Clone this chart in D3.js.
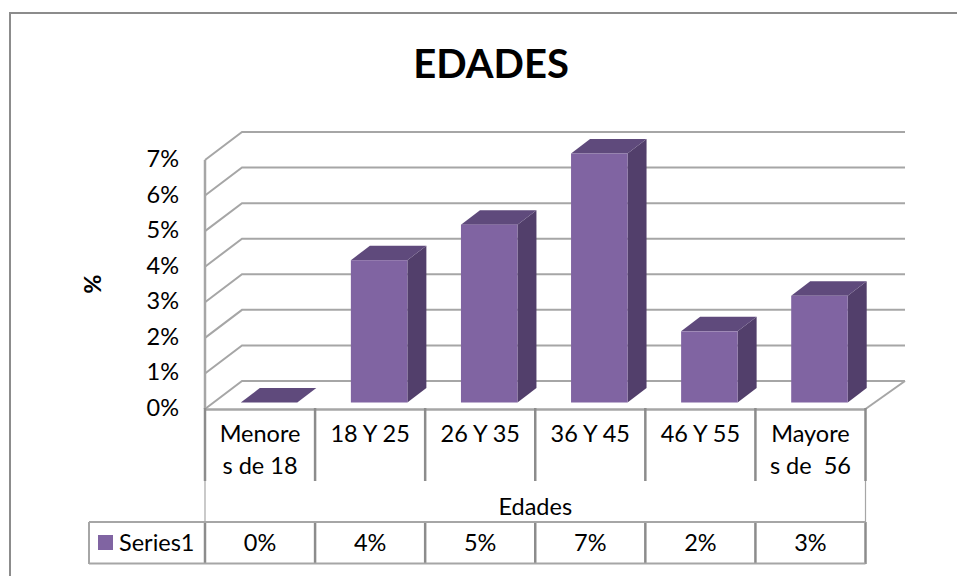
<!DOCTYPE html>
<html><head><meta charset="utf-8">
<script src="https://cdn.jsdelivr.net/npm/d3@7"></script>
<style>html,body{margin:0;background:#fff}svg{display:block}text{font-family:Lato,"Open Sans",sans-serif;fill:#000}</style>
</head><body><svg id="c" width="957" height="576"></svg>
<script>
const categories=["Menores de 18","18 Y 25","26 Y 35","36 Y 45","46 Y 55","Mayores de 56"];
const catLines=[["Menore","s de 18"],["18 Y 25"],["26 Y 35"],["36 Y 45"],["46 Y 55"],["Mayore","s de  56"]];
const values=[0,4,5,7,2,3];
const yTicks=[0,1,2,3,4,5,6,7];
const chartTitle="EDADES", yTitle="%", xTitle="Edades", seriesName="Series1";

const W=957,H=576;
const svg=d3.select("#c");
const grey="#a6a6a6", dark="#8c8c8c";
const x=d3.scaleBand().domain(categories).range([205,865.5]);
const y=d3.scaleLinear().domain([0,7]).range([409,160]);
const depthX=37,depthY=-28;
const barShiftX=9,barShiftY=-6.5,barDX=19,barDY=-14.5,barW=56.5;
const front="#8064a2",top_="#5f4a7c",side="#523f6b";

svg.append("path").attr("d","M10,576V13H957").attr("fill","none").attr("stroke","#8c8c8c").attr("stroke-width",2);

svg.append("text").attr("x",491).attr("y",78).attr("text-anchor","middle")
  .attr("font-size",40).attr("font-weight",700).text(chartTitle);

const wall=svg.append("g").attr("fill","none").attr("stroke",grey).attr("stroke-width",2);
yTicks.forEach(t=>{
  wall.append("path").attr("d",d3.line()([[x.range()[0],y(t)],[x.range()[0]+depthX,y(t)+depthY],[905,y(t)+depthY]]));
});
wall.append("path").attr("d",d3.line()([[x.range()[1],y(0)],[905,y(0)+depthY]]));
wall.append("path").attr("d",d3.line()([[x.range()[0],y(0)],[x.range()[0],y(7)]])).attr("stroke-width",2.5);

svg.append("g").selectAll("text").data(yTicks).join("text")
  .attr("x",179).attr("y",d=>y(d)+7).attr("text-anchor","end").attr("font-size",23.5).text(d=>d+"%");
svg.append("text").attr("transform","translate(101,284) rotate(-90)").attr("text-anchor","middle")
  .attr("font-size",23.5).attr("font-weight",700).text(yTitle);

const bars=svg.append("g").selectAll("g").data(categories).join("g");
bars.each(function(c,i){
  const g=d3.select(this),v=values[i];
  const x0=x(c)+x.bandwidth()/2+barShiftX-barW/2,x1=x0+barW;
  const yb=y(0)+barShiftY,yt=y(v)+barShiftY;
  const path=p=>d3.line()(p)+"Z";
  g.append("path").attr("d",path([[x1,yb],[x1+barDX,yb+barDY],[x1+barDX,yt+barDY],[x1,yt]])).attr("fill",side);
  g.append("path").attr("d",path([[x0,yt],[x0+barDX,yt+barDY],[x1+barDX,yt+barDY],[x1,yt]])).attr("fill",top_);
  if(v>0) g.append("rect").attr("x",x0).attr("y",yt).attr("width",barW).attr("height",yb-yt).attr("fill",front);
});

const rules=svg.append("g").attr("fill","none").attr("stroke",dark);
const X0=x.range()[0],X1=x.range()[1];
rules.append("line").attr("x1",X0).attr("x2",X1).attr("y1",409.5).attr("y2",409.5).attr("stroke",grey).attr("stroke-width",2.5);
const edges=categories.map(c=>x(c)).concat([X1]);
edges.forEach(e=>{
  rules.append("line").attr("x1",e).attr("x2",e).attr("y1",408).attr("y2",481).attr("stroke-width",2.5);
  rules.append("line").attr("x1",e).attr("x2",e).attr("y1",522).attr("y2",564).attr("stroke-width",2.5);
});
[X0,X1].forEach(e=>rules.append("line").attr("x1",e).attr("x2",e).attr("y1",481).attr("y2",522).attr("stroke",grey).attr("stroke-width",1.2));
[522,563.5].forEach(v=>rules.append("line").attr("x1",89).attr("x2",X1).attr("y1",v).attr("y2",v).attr("stroke",grey).attr("stroke-width",2));
rules.append("line").attr("x1",89).attr("x2",89).attr("y1",522).attr("y2",564).attr("stroke",grey).attr("stroke-width",2);

const labels=svg.append("g").attr("font-size",23.5).attr("text-anchor","middle");
categories.forEach((c,i)=>{
  catLines[i].forEach((l,j)=>labels.append("text").attr("x",x(c)+x.bandwidth()/2).attr("y",442+j*32).attr("xml:space","preserve").text(l));
  labels.append("text").attr("x",x(c)+x.bandwidth()/2).attr("y",551).text(values[i]+"%");
});
labels.append("text").attr("x",(X0+X1)/2).attr("y",515).text(xTitle);
svg.append("rect").attr("x",98).attr("y",535).attr("width",15).attr("height",15).attr("fill",front);
svg.append("text").attr("x",119).attr("y",551).attr("font-size",23.5).text(seriesName);
</script></body></html>
